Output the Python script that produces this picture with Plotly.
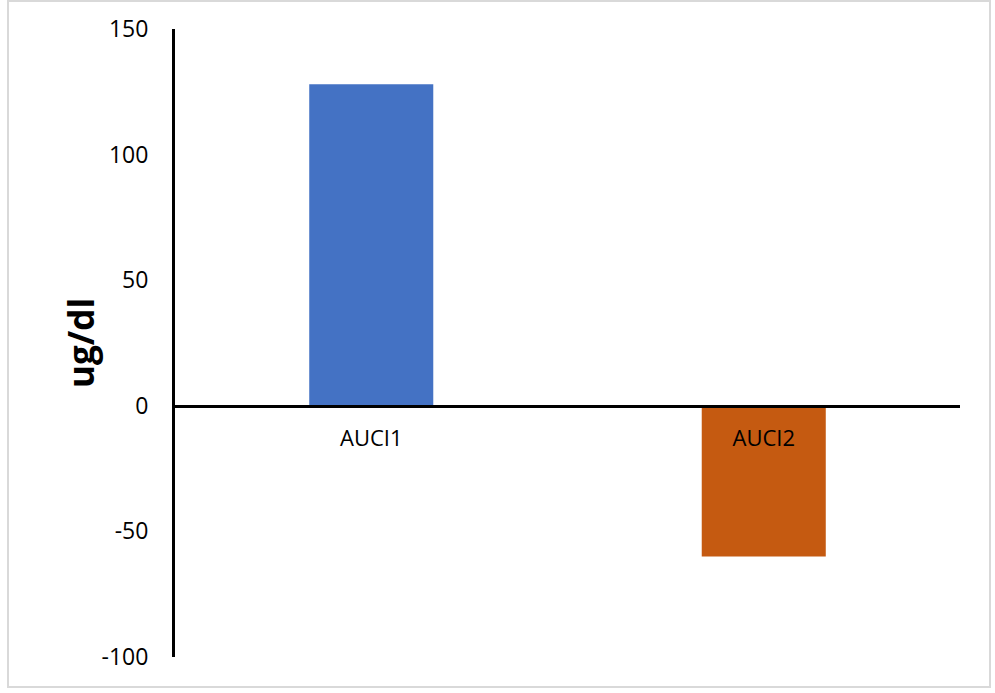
import plotly.graph_objects as go

categories = ["AUCI1", "AUCI2"]
values = [128, -60]
bar_colors = ["#4472C4", "#C55A11"]
y_range = [-100, 150]
y_tick_vals = [-100, -50, 0, 50, 100, 150]
y_tick_text = ["-100", "-50", "0", "50", "100", "150"]
y_title = "ug/dl"

W, H = 995, 693
ml, mr, mt, mb = 175, 35, 29, 36
pw, ph = W - ml - mr, H - mt - mb

def px_to_paper_x(px):
    return (px - ml) / pw

def px_to_paper_y(py):
    return (H - mb - py) / ph

fig = go.Figure()
fig.add_trace(go.Bar(
    x=categories, y=values,
    marker=dict(color=bar_colors, line=dict(width=0)),
    showlegend=False, hoverinfo="x+y",
))

zero_pos = (0 - y_range[0]) / (y_range[1] - y_range[0])

fig.update_layout(
    width=W, height=H,
    margin=dict(l=ml, r=mr, t=mt, b=mb, autoexpand=False),
    paper_bgcolor="white", plot_bgcolor="white",
    bargap=0.684,
    font=dict(family="Open Sans", color="#000000"),
    xaxis=dict(
        anchor="free", position=zero_pos,
        showline=True, linewidth=3, linecolor="black",
        showgrid=False, zeroline=False, ticks="",
        tickfont=dict(size=22, color="#000000"),
        ticklabelstandoff=12,
    ),
    yaxis=dict(
        range=y_range, tickvals=y_tick_vals, ticktext=y_tick_text,
        showline=True, linewidth=3, linecolor="black",
        showgrid=False, zeroline=False, ticks="",
        tickfont=dict(size=23, color="#000000"),
        ticklabelstandoff=19,
    ),
    shapes=[dict(
        type="rect", xref="paper", yref="paper",
        x0=px_to_paper_x(8), x1=px_to_paper_x(990),
        y0=px_to_paper_y(687), y1=px_to_paper_y(1),
        line=dict(color="#D9D9D9", width=2), fillcolor="rgba(0,0,0,0)",
        layer="below",
    )],
    annotations=[dict(
        text="<b>" + y_title + "</b>", textangle=-90,
        xref="paper", yref="paper",
        x=px_to_paper_x(80), y=0.5, xanchor="center", yanchor="middle",
        showarrow=False, font=dict(size=35, color="#000000"),
    )],
)

fig.write_html("out.html")
